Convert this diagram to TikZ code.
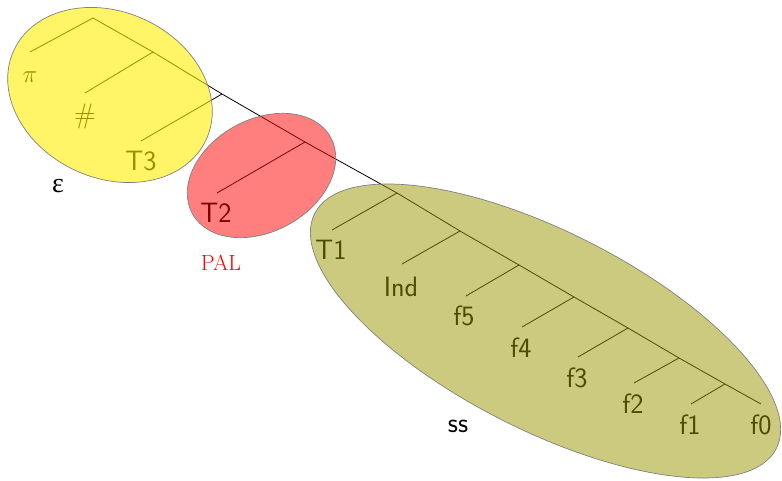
\documentclass[tikz,border=0pt]{standalone}
\usepackage{fontspec}
\newfontfamily\greekserif{Liberation Serif}
\definecolor{blobyellow}{RGB}{255,238,0}
\definecolor{blobred}{RGB}{255,0,0}
\definecolor{blobolive}{RGB}{153,150,0}
\begin{document}
\begin{tikzpicture}[x=1pt,y=-1pt,
  branch/.style={line width=0.8pt, black},
  leaf/.style={anchor=base, inner sep=0pt, font=\fontsize{28}{32}\selectfont\sffamily},
  mleaf/.style={anchor=base, inner sep=0pt, font=\fontsize{28}{32}\selectfont},
  blob/.style={draw=black!50, line width=0.7pt},
]
\useasboundingbox (0,0) rectangle (782,481);

% spine of the tree
\coordinate (r0) at (93,18);
\coordinate (r1) at (153,52);
\coordinate (r2) at (222,94);
\coordinate (r3) at (305,142);
\coordinate (r4) at (397,193);
\coordinate (r5) at (460,231);
\coordinate (r6) at (519,265);
\coordinate (r7) at (574,297);
\coordinate (r8) at (628,328);
\coordinate (r9) at (679,358);
\coordinate (r10) at (725,384);

% ends of the left branches
\coordinate (epi) at (30,52);
\coordinate (ehash) at (85,93);
\coordinate (et3) at (141,141);
\coordinate (et2) at (217,193);
\coordinate (et1) at (332,230);
\coordinate (eind) at (402,264);
\coordinate (ef5) at (466,296);
\coordinate (ef4) at (522,327);
\coordinate (ef3) at (578,357);
\coordinate (ef2) at (634,383);
\coordinate (ef1) at (691,404);
\coordinate (ef0) at (761,404);

% branches
\draw[branch] (epi) -- (r0) -- (r1) -- (r2) -- (r3) -- (r4) -- (r5)
  -- (r6) -- (r7) -- (r8) -- (r9) -- (r10) -- (ef0);
\draw[branch] (r1) -- (ehash);
\draw[branch] (r2) -- (et3);
\draw[branch] (r3) -- (et2);
\draw[branch] (r4) -- (et1);
\draw[branch] (r5) -- (eind);
\draw[branch] (r6) -- (ef5);
\draw[branch] (r7) -- (ef4);
\draw[branch] (r8) -- (ef3);
\draw[branch] (r9) -- (ef2);
\draw[branch] (r10) -- (ef1);

% leaves
\node[mleaf] (lpi) at (30,83) {$\pi$};
\node[mleaf] (lhash) at (85,124) {$\#$};
\node[leaf] (lt3) at (141,171) {T3};
\node[leaf] (lt2) at (216,223) {T2};
\node[leaf] (lt1) at (331,260) {T1};
\node[leaf] (lind) at (401,296) {Ind};
\node[leaf] (lf5) at (464,325) {f5};
\node[leaf] (lf4) at (521,357) {f4};
\node[leaf] (lf3) at (577,387) {f3};
\node[leaf] (lf2) at (633,413) {f2};
\node[leaf] (lf1) at (690,434) {f1};
\node[leaf] (lf0) at (761,434) {f0};

% translucent groupings
\fill[blobyellow, fill opacity=0.6, rotate around={-25:(110,95)}]
  (110,95) ellipse [x radius=106pt, y radius=83pt];
\draw[blob, rotate around={-25:(110,95)}]
  (110,95) ellipse [x radius=106pt, y radius=83pt];
\fill[blobred, fill opacity=0.5, rotate around={29:(261.5,175.5)}]
  (261.5,175.5) ellipse [x radius=79pt, y radius=56pt];
\draw[blob, rotate around={29:(261.5,175.5)}]
  (261.5,175.5) ellipse [x radius=79pt, y radius=56pt];
\fill[blobolive, fill opacity=0.5, rotate around={-27:(545.5,331)}]
  (545.5,331) ellipse [x radius=259pt, y radius=99pt];
\draw[blob, rotate around={-27:(545.5,331)}]
  (545.5,331) ellipse [x radius=259pt, y radius=99pt];

% group names
\node[anchor=base, inner sep=0pt, font=\fontsize{28}{32}\selectfont\greekserif] (geps) at (58,193) {ε};
\node[anchor=base, inner sep=0pt, text=red, font=\fontsize{22}{26}\selectfont] (gpal) at (221,270) {PAL};
\node[leaf] (gss) at (458,432) {ss};
\end{tikzpicture}
\end{document}
